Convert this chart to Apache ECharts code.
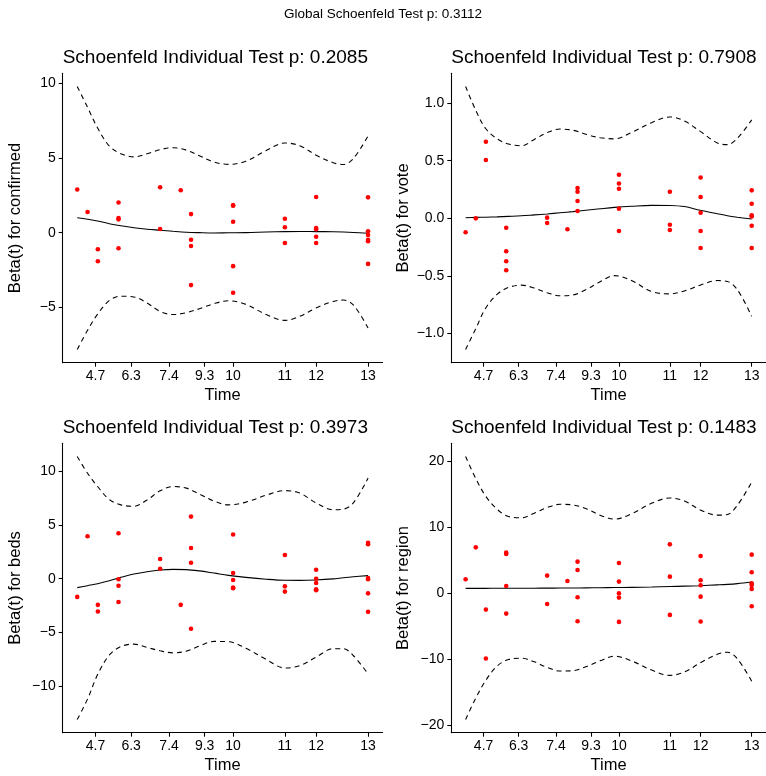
<!DOCTYPE html>
<html>
<head>
<meta charset="utf-8">
<script src="https://cdn.jsdelivr.net/npm/echarts@6/dist/echarts.min.js"></script>
<style>
  html, body { margin: 0; padding: 0; background: #fff; }
  #chart { width: 766px; height: 776px; }
</style>
</head>
<body>
<div id="chart"></div>
<script>
// Time axis is shown on the transformed (KM) scale: positions below are in that scale.
const tickTimes = ['4.7', '6.3', '7.4', '9.3', '10', '11', '12', '13'];
const tickPos = [6.29, 18.54, 31.58, 43.82, 53.6, 71.4, 82.15, 100];

// Transformed event times at which residuals are plotted
const eventPos = [0, 3.55, 7.09, 14.19, 28.5, 35.59, 39.13, 53.6, 71.4, 82.15, 100];

// Scaled Schoenfeld residuals, one group per event time
const residConfirmed = [
  [2.89], [1.38], [-1.11, -1.91], [2.02, 0.98, 0.89, -1.04], [3.04, 0.24], [2.84],
  [1.24, -0.47, -0.89, -3.51], [1.84, 1.80, 0.73, -2.24, -4.02], [0.93, 0.36, -0.69],
  [2.38, 0.31, 0.22, -0.27, -0.69], [2.36, 0.09, -0.16, -0.47, -0.58, -2.09]
];
const residVote = [
  [-0.121], [0.0], [0.665, 0.506], [-0.081, -0.286, -0.373, -0.451], [0.006, -0.040], [-0.095],
  [0.263, 0.231, 0.150, 0.064], [0.379, 0.303, 0.257, 0.084, -0.110], [0.231, -0.055, -0.101],
  [0.355, 0.185, 0.049, -0.110, -0.257], [0.243, 0.127, 0.026, 0.017, -0.064, -0.257]
];
const residBeds = [
  [-1.69], [3.94], [-2.43, -3.05], [4.22, -0.06, -0.65, -2.16], [1.82, 0.92], [-2.43],
  [5.76, 2.84, 1.48, -4.65], [4.10, 0.52, -0.12, -0.83, -0.89], [2.19, -0.71, -1.20],
  [0.83, 0.0, -0.40, -0.99, -1.08], [3.33, 3.20, 0.06, -0.06, -1.36, -3.08]
];
const residRegion = [
  [2.07], [6.92], [-2.53, -9.95], [6.11, 5.91, 1.06, -3.13], [2.63, -1.67], [1.82],
  [4.75, 3.48, -0.66, -4.29], [4.55, 1.72, -0.05, -0.71, -4.39], [7.37, 2.47, -3.33],
  [5.61, 1.92, 1.16, -0.56, -4.34], [5.81, 3.13, 1.46, 1.21, 0.61, -2.02]
];

// Smoothed beta(t) with its confidence band, on a common grid of transformed time
const curveGrid = [0, 3.5, 7, 11, 15, 19.5, 24, 28.5, 33, 37.5, 42, 47, 52, 58, 65, 71.4, 76.5, 82, 88, 91.5, 95, 100];

const fitConfirmed = [1.0, 0.9, 0.78, 0.6, 0.46, 0.33, 0.23, 0.16, 0.09, 0.03, 0.0, -0.02, -0.01, 0.0, 0.04, 0.07, 0.08, 0.07, 0.06, 0.04, 0.01, -0.04];
const upperConfirmed = [9.78, 8.4, 7.0, 5.8, 5.28, 5.07, 5.28, 5.55, 5.68, 5.52, 5.14, 4.72, 4.57, 4.78, 5.5, 6.0, 5.82, 5.2, 4.68, 4.56, 4.97, 6.47];
const lowerConfirmed = [-7.82, -6.55, -5.45, -4.55, -4.25, -4.3, -4.7, -5.27, -5.48, -5.35, -5.09, -4.75, -4.56, -4.8, -5.48, -5.87, -5.6, -5.05, -4.6, -4.51, -4.85, -6.38];

const fitVote = [0.005, 0.008, 0.01, 0.013, 0.017, 0.022, 0.03, 0.038, 0.048, 0.058, 0.07, 0.083, 0.095, 0.105, 0.113, 0.112, 0.103, 0.07, 0.04, 0.023, 0.01, -0.006];
const upperVote = [1.145, 0.94, 0.78, 0.69, 0.645, 0.63, 0.685, 0.745, 0.775, 0.765, 0.73, 0.70, 0.69, 0.745, 0.83, 0.88, 0.845, 0.755, 0.655, 0.64, 0.695, 0.855];
const lowerVote = [-1.139, -0.96, -0.78, -0.66, -0.6, -0.58, -0.605, -0.645, -0.672, -0.665, -0.62, -0.55, -0.497, -0.54, -0.635, -0.656, -0.63, -0.58, -0.54, -0.548, -0.62, -0.85];

const fitBeds = [-0.83, -0.65, -0.47, -0.2, 0.12, 0.43, 0.65, 0.8, 0.86, 0.84, 0.72, 0.52, 0.31, 0.12, -0.05, -0.15, -0.16, -0.12, -0.02, 0.09, 0.18, 0.28];
const upperBeds = [11.34, 9.8, 8.55, 7.35, 6.85, 6.72, 7.3, 8.15, 8.55, 8.4, 7.85, 7.2, 6.85, 7.1, 7.75, 8.17, 7.95, 7.05, 6.4, 6.45, 7.05, 9.34];
const lowerBeds = [-13.07, -11.2, -8.9, -7.1, -6.3, -6.07, -6.38, -6.69, -6.88, -6.72, -6.25, -5.82, -5.85, -6.45, -7.5, -8.29, -8.07, -7.3, -6.5, -6.5, -7.15, -8.84];

const fitRegion = [0.7, 0.7, 0.7, 0.71, 0.71, 0.72, 0.72, 0.73, 0.74, 0.75, 0.77, 0.79, 0.82, 0.85, 0.9, 0.97, 1.03, 1.1, 1.22, 1.3, 1.42, 1.67];
const upperRegion = [20.7, 17.4, 14.7, 12.7, 11.6, 11.4, 12.1, 12.95, 13.45, 13.35, 12.8, 11.8, 11.2, 12.0, 13.6, 14.4, 13.95, 12.6, 11.8, 11.9, 13.3, 16.8];
const lowerRegion = [-19.2, -16.0, -13.3, -11.1, -10.1, -9.9, -10.45, -11.3, -11.85, -11.8, -11.2, -10.3, -9.6, -10.3, -11.7, -12.5, -12.0, -10.6, -9.3, -9.0, -10.0, -13.4];

// Test p-values
const globalP = '0.3112';
const pConfirmed = '0.2085';
const pVote = '0.7908';
const pBeds = '0.3973';
const pRegion = '0.1483';

// y-axis tick labels per panel
const yTicksConfirmed = [-5, 0, 5, 10];
const yTicksVote = [-1, -0.5, 0, 0.5, 1];
const yTicksBeds = [-10, -5, 0, 5, 10];
const yTicksRegion = [-20, -10, 0, 10, 20];

const FONT = '"Liberation Sans", Arial, Helvetica, sans-serif';

const panels = [
  { name: 'confirmed', p: pConfirmed, resid: residConfirmed, fit: fitConfirmed, up: upperConfirmed, lo: lowerConfirmed, ticks: yTicksConfirmed, dec: 0, ymin: -8.70, ymax: 10.66, left: 62.7, top: 73.3 },
  { name: 'vote', p: pVote, resid: residVote, fit: fitVote, up: upperVote, lo: lowerVote, ticks: yTicksVote, dec: 1, ymin: -1.253, ymax: 1.259, left: 451.3, top: 73.3 },
  { name: 'beds', p: pBeds, resid: residBeds, fit: fitBeds, up: upperBeds, lo: lowerBeds, ticks: yTicksBeds, dec: 0, ymin: -14.29, ymax: 12.56, left: 62.7, top: 443.3 },
  { name: 'region', p: pRegion, resid: residRegion, fit: fitRegion, up: upperRegion, lo: lowerRegion, ticks: yTicksRegion, dec: 0, ymin: -21.2, ymax: 22.7, left: 451.3, top: 443.3 }
];

const PANEL_W = 319.9, PANEL_H = 289.4;

function numLabel(dec) {
  return function (v) {
    const s = Math.abs(v).toFixed(dec);
    return (v < 0 ? '\u2212' : '') + s;
  };
}
function timeLabel(v) {
  let best = 0;
  for (let i = 1; i < tickPos.length; i++) {
    if (Math.abs(tickPos[i] - v) < Math.abs(tickPos[best] - v)) best = i;
  }
  return tickTimes[best];
}
function pairs(xs, ys) { return xs.map((x, i) => [x, ys[i]]); }

const axisLineStyle = { color: '#000', width: 1.07 };
const titles = [{
  text: 'Global Schoenfeld Test p: ' + globalP,
  left: 'center', top: 7, padding: 0,
  textStyle: { fontFamily: FONT, fontSize: 13.5, fontWeight: 'normal', color: '#000', lineHeight: 15 }
}];
const grids = [], xAxes = [], yAxes = [], series = [];

panels.forEach((pn, i) => {
  titles.push({
    text: 'Schoenfeld Individual Test p: ' + pn.p,
    left: pn.left, top: pn.top - 26, padding: 0,
    textStyle: { fontFamily: FONT, fontSize: 19, fontWeight: 'normal', color: '#000', lineHeight: 21 }
  });
  grids.push({ left: pn.left, top: pn.top, width: PANEL_W, height: PANEL_H, containLabel: false });
  xAxes.push({
    type: 'value', gridIndex: i, min: -5, max: 105,
    name: 'Time', nameLocation: 'middle', nameGap: 24,
    nameTextStyle: { fontFamily: FONT, fontSize: 16.5, color: '#000' },
    axisLine: { show: true, onZero: false, lineStyle: axisLineStyle },
    axisTick: { show: true, length: 4, customValues: tickPos, lineStyle: axisLineStyle },
    axisLabel: { customValues: tickPos, formatter: timeLabel, margin: 6, fontFamily: FONT, fontSize: 14, color: '#000' },
    splitLine: { show: false }
  });
  yAxes.push({
    type: 'value', gridIndex: i, min: pn.ymin, max: pn.ymax,
    name: 'Beta(t) for ' + pn.name, nameLocation: 'middle', nameGap: 39, nameRotate: 90,
    nameTextStyle: { fontFamily: FONT, fontSize: 16.5, color: '#000' },
    axisLine: { show: true, onZero: false, lineStyle: axisLineStyle },
    axisTick: { show: true, length: 4, customValues: pn.ticks, lineStyle: axisLineStyle },
    axisLabel: { customValues: pn.ticks, formatter: numLabel(pn.dec), margin: 7, fontFamily: FONT, fontSize: 14, color: '#000' },
    splitLine: { show: false }
  });

  const lineCommon = { type: 'line', xAxisIndex: i, yAxisIndex: i, showSymbol: false, symbol: 'none', smooth: 0.35, silent: true, z: 2 };
  series.push(Object.assign({}, lineCommon, { data: pairs(curveGrid, pn.fit), lineStyle: { color: '#000', width: 1.1 } }));
  series.push(Object.assign({}, lineCommon, { data: pairs(curveGrid, pn.up), lineStyle: { color: '#000', width: 1.1, type: [5, 4] } }));
  series.push(Object.assign({}, lineCommon, { data: pairs(curveGrid, pn.lo), lineStyle: { color: '#000', width: 1.1, type: [5, 4] } }));

  const pts = [];
  pn.resid.forEach((grp, k) => grp.forEach(v => pts.push([eventPos[k], v])));
  series.push({
    type: 'scatter', xAxisIndex: i, yAxisIndex: i, data: pts,
    symbol: 'circle', symbolSize: 4.6, itemStyle: { color: '#ff0000', opacity: 1 }, silent: true, z: 3
  });
});

const chart = echarts.init(document.getElementById('chart'), null, { renderer: 'canvas' });
chart.setOption({
  animation: false,
  backgroundColor: '#ffffff',
  title: titles,
  grid: grids,
  xAxis: xAxes,
  yAxis: yAxes,
  series: series
});
</script>
</body>
</html>
